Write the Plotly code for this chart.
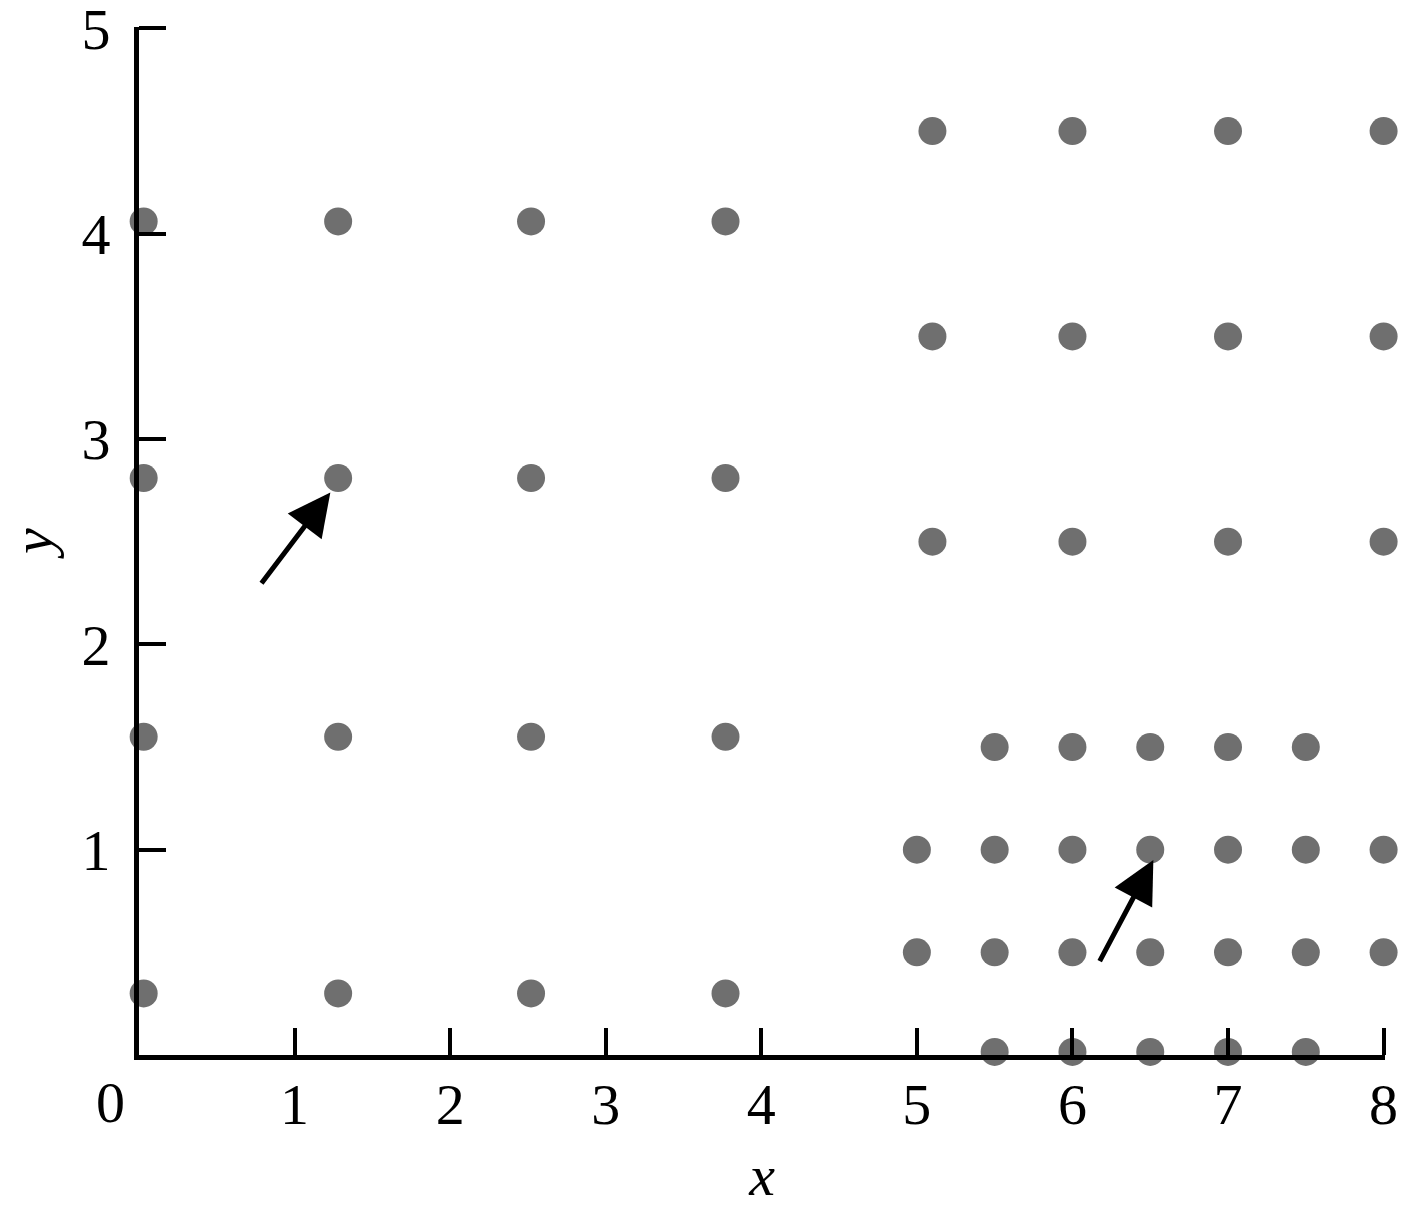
import plotly.graph_objects as go

# Left lattice (4 columns x 4 rows)
left_x = [0.03, 1.28, 2.52, 3.77]
left_y = [4.06, 2.81, 1.55, 0.30]

# Upper-right lattice
ur_x = [5.10, 6.0, 7.0, 8.0]
ur_y = [4.5, 3.5, 2.5]

# Lower-right lattice, rows with their x values
lr_rows = {
    1.5: [5.5, 6.0, 6.5, 7.0, 7.5],
    1.0: [5.0, 5.5, 6.0, 6.5, 7.0, 7.5, 8.0],
    0.5: [5.0, 5.5, 6.0, 6.5, 7.0, 7.5, 8.0],
    0.015: [5.5, 6.0, 6.5, 7.0, 7.5],
}

# Arrows: (tail_x, tail_y, head_x, head_y)
arrow_tail_x = [0.78, 6.17]
arrow_tail_y = [2.29, 0.45]
arrow_head_x = [1.23, 6.52]
arrow_head_y = [2.74, 0.95]

x_ticks = [1, 2, 3, 4, 5, 6, 7, 8]
y_ticks = [1, 2, 3, 4, 5]
origin_label = "0"

xs, ys = [], []
for yy in left_y:
    for xx in left_x:
        xs.append(xx); ys.append(yy)
for yy in ur_y:
    for xx in ur_x:
        xs.append(xx); ys.append(yy)
for yy, row in lr_rows.items():
    for xx in row:
        xs.append(xx); ys.append(yy)

FONT = "Liberation Serif"
FS = 58
fig = go.Figure()
fig.add_trace(go.Scatter(
    x=xs, y=ys, mode="markers",
    marker=dict(size=28, color="#6f6f6f", line=dict(width=0)),
    cliponaxis=False, showlegend=False, hoverinfo="skip",
))

for tx, ty, hx, hy in zip(arrow_tail_x, arrow_tail_y, arrow_head_x, arrow_head_y):
    fig.add_annotation(
        x=hx, y=hy, ax=tx, ay=ty, xref="x", yref="y", axref="x", ayref="y",
        text="", showarrow=True, arrowhead=2, arrowsize=1.7, arrowwidth=5,
        arrowcolor="black", standoff=0,
    )

fig.add_annotation(
    x=0, y=0, xref="x", yref="y", text=origin_label, showarrow=False,
    xanchor="center", yanchor="top", xshift=-29, yshift=-13,
    font=dict(family=FONT, size=FS, color="black"),
)

fig.update_layout(
    width=1401, height=1211,
    margin=dict(l=139, r=16, t=27, b=156),
    paper_bgcolor="white", plot_bgcolor="white",
    font=dict(family=FONT, size=FS, color="black"),
    xaxis=dict(
        range=[0, 8.009], tickvals=x_ticks, ticktext=[str(v) for v in x_ticks],
        ticks="inside", ticklen=27, tickwidth=4, tickcolor="black",
        ticklabelstandoff=-6, ticklabeloverflow="allow",
        showline=True, linewidth=5, linecolor="black", mirror=False,
        showgrid=False, zeroline=False, automargin=False,
        title=dict(text="<i>x</i>", font=dict(family=FONT, size=FS), standoff=20),
    ),
    yaxis=dict(
        range=[0, 5.007], tickvals=y_ticks, ticktext=[str(v) for v in y_ticks],
        ticks="inside", ticklen=27, tickwidth=4, tickcolor="black",
        ticklabelstandoff=12, ticklabeloverflow="allow",
        showline=True, linewidth=5, linecolor="black", mirror=False,
        showgrid=False, zeroline=False, automargin=False,
        title=dict(text="<i>y</i>", font=dict(family=FONT, size=FS), standoff=20),
    ),
)

fig.write_html("out.html", config={"displayModeBar": False},
               post_script="document.body.style.margin='0';")
